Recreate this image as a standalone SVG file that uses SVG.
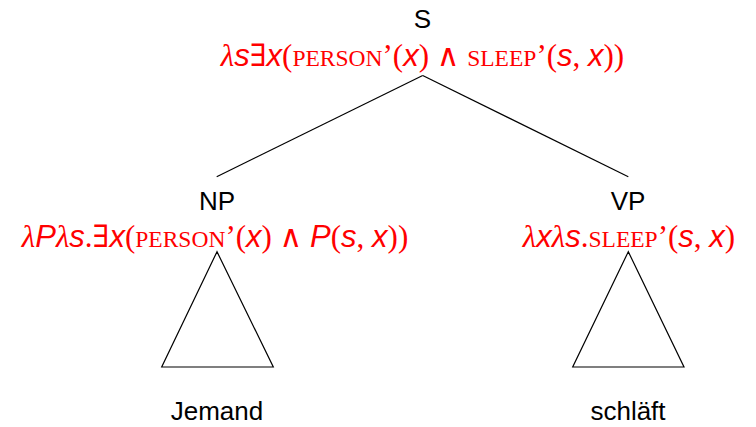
<svg xmlns="http://www.w3.org/2000/svg" width="756" height="427" viewBox="0 0 756 427">
<style>
.lbl{font-family:"Liberation Sans","DejaVu Sans",sans-serif;font-size:26px;fill:#000;text-anchor:middle}
.f{font-family:"Liberation Serif","DejaVu Serif",serif;font-size:31px;fill:#ff0000;text-anchor:middle}
.v{font-family:"Liberation Sans","DejaVu Sans",sans-serif;font-style:italic}
.g{font-style:italic}
.sc{font-size:23.5px}
.edge{stroke:#000;stroke-width:1.2;fill:none}
</style>
<rect width="756" height="427" fill="#fff"/>
<g id="connectors">
<line class="edge" x1="422.7" y1="75.5" x2="216.7" y2="176.7"/>
<line class="edge" x1="422.7" y1="75.5" x2="628.3" y2="176.7"/>
</g>
<g id="node-S">
<text class="lbl" x="422.5" y="28">S</text>
<text class="f" x="422.5" y="66"><tspan class="g">λ</tspan><tspan class="v">s</tspan>∃<tspan class="v">x</tspan>(<tspan class="sc">PERSON</tspan>’(<tspan class="v">x</tspan>) ∧ <tspan class="sc">SLEEP</tspan>’(<tspan class="v">s</tspan>, <tspan class="v">x</tspan>))</text>
</g>
<g id="node-NP">
<text class="lbl" x="217" y="210">NP</text>
<text class="f" x="215" y="247"><tspan class="g">λ</tspan><tspan class="v">P</tspan><tspan class="g">λ</tspan><tspan class="v">s</tspan>.∃<tspan class="v">x</tspan>(<tspan class="sc">PERSON</tspan>’(<tspan class="v">x</tspan>) ∧ <tspan class="v">P</tspan>(<tspan class="v">s</tspan>, <tspan class="v">x</tspan>))</text>
<polygon class="edge" points="217,251.7 161.7,367 273.3,367"/>
<text class="lbl" x="217" y="420">Jemand</text>
</g>
<g id="node-VP">
<text class="lbl" x="628" y="210">VP</text>
<text class="f" x="629" y="247"><tspan class="g">λ</tspan><tspan class="v">x</tspan><tspan class="g">λ</tspan><tspan class="v">s</tspan>.<tspan class="sc">SLEEP</tspan>’(<tspan class="v">s</tspan>, <tspan class="v">x</tspan>)</text>
<polygon class="edge" points="628.3,251.7 572.7,367 684,367"/>
<text class="lbl" x="628" y="420">schläft</text>
</g>
</svg>
